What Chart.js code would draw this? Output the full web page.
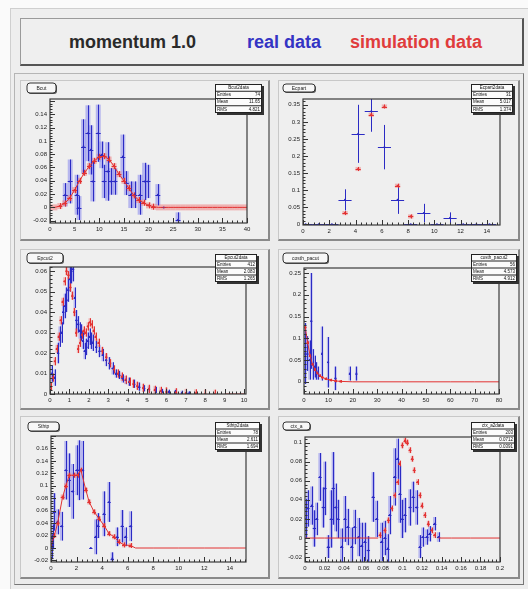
<!DOCTYPE html>
<html>
<head>
<meta charset="utf-8">
<script src="https://cdn.jsdelivr.net/npm/chart.js@4.4.0/dist/chart.umd.min.js"></script>
<style>
  body { margin: 0; width: 528px; height: 589px; background: #fafafa; position: relative; overflow: hidden; font-family: "Liberation Sans", Arial, sans-serif; }
  #page { position: absolute; left: 0; top: 0; width: 528px; height: 589px; filter: blur(0.4px); }
  .abs { position: absolute; box-sizing: border-box; }
  #root { left: 10px; top: 8px; width: 518px; height: 581px; background: #eeeeee; border-left: 1px solid #cfcfcf; border-top: 1px solid #cfcfcf; }
  #head { left: 20px; top: 18px; width: 504px; height: 48px; background: #efefef; border: 1px solid #9a9a9a; border-right: 2px solid #555; border-bottom: 2px solid #555; }
  .ht { position: absolute; top: 33px; font: bold 18px/18px "Liberation Sans", Arial, sans-serif; white-space: nowrap; }
  #panel { left: 14px; top: 73px; width: 510px; height: 512px; border: 1px solid #b5b5b5; border-right-color: #777; border-bottom-color: #777; background: #ececec; }
  .pad { background: #efefef; border: 1px solid #c8c8c8; border-right: 2px solid #8a8a8a; border-bottom: 2px solid #8a8a8a; }
  canvas { position: absolute; }
</style>
</head>
<body>
<div id="page">
<div id="root" class="abs"></div>
<div id="head" class="abs"></div>
<span class="ht" style="left:69px;color:#2a2a2a">momentum 1.0</span>
<span class="ht" style="left:247px;color:#3434c4">real data</span>
<span class="ht" style="left:350px;color:#e03c3c">simulation data</span>
<div id="panel" class="abs"></div>
</div>

<script>
// ---------- pad 1 : Bcut ----------
const bcutX = [3.1, 4.1, 5.5, 5.9, 6.8, 7.7, 8.3, 8.7, 9.8, 10.5, 11.0, 11.7, 12.4, 13.2, 14.8, 15.5, 16.4, 17.2, 18.3, 19.2, 19.9, 21.9, 23.1, 26.0];
const bcutY = [0.019, 0.039, 0.019, -0.001, 0.0915, 0.1115, 0.0865, 0.039, 0.1115, 0.079, 0.039, 0.054, 0.039, 0.039, 0.0765, 0.0365, 0.019, 0.019, 0.019, 0.039, 0.039, 0.019, 0, -0.0185];
const bcutErr = [0.0175, 0.033, 0.03, 0.018, 0.041, 0.042, 0.037, 0.03, 0.043, 0.02, 0.025, 0.044, 0.02, 0.02, 0.033, 0.018, 0.02, 0.02, 0.03, 0.028, 0.025, 0.016, 0, 0.011];
const bcutSimX = [0, 1, 2, 3, 4, 5, 6, 7, 8, 9, 10, 11, 12, 13, 14, 15, 16, 17, 18, 19, 20, 21, 22, 23, 24, 25, 26, 27, 28, 29, 30, 31, 32, 33, 34, 35, 36, 37, 38, 39, 40];
const bcutSimY = [0, 0, 0.002, 0.006, 0.014, 0.026, 0.04, 0.052, 0.062, 0.07, 0.076, 0.077, 0.072, 0.062, 0.05, 0.04, 0.029, 0.018, 0.011, 0.007, 0.003, 0.001, 0, 0, 0, 0, 0, 0, 0, 0, 0, 0, 0, 0, 0, 0, 0, 0, 0, 0, 0];
const bcutXTicks = [0, 5, 10, 15, 20, 25, 30, 35, 40];
const bcutYTicks = [-0.02, 0, 0.02, 0.04, 0.06, 0.08, 0.1, 0.12, 0.14];

// ---------- pad 2 : Ecpart ----------
const ecpX = [0.2, 1.2, 2.2, 3.2, 4.2, 5.2, 6.2, 7.2, 8.2, 9.2, 10.2, 11.2, 12.2, 13.2, 14.2];
const ecpY = [0, 0, 0, 0.0716, 0.265, 0.331, 0.226, 0.0716, 0, 0.033, 0, 0.019, 0, 0, 0];
const ecpErr = [0, 0, 0, 0.031, 0.085, 0.06, 0.065, 0.041, 0, 0.027, 0, 0.016, 0, 0, 0];
const ecpSimX = [0.2, 1.2, 2.2, 3.2, 4.2, 5.2, 6.2, 7.2, 8.2, 9.2, 10.2, 11.2, 12.2, 13.2, 14.2];
const ecpSimY = [0, 0, 0, 0.033, 0.162, 0.321, 0.345, 0.113, 0.023, 0, 0, 0, 0, 0, 0];
const ecpXTicks = [0, 2, 4, 6, 8, 10, 12, 14];
const ecpYTicks = [0, 0.05, 0.1, 0.15, 0.2, 0.25, 0.3, 0.35];

// ---------- pad 3 : Epcut2 ----------
const epX = [0.08, 0.25, 0.42, 0.5, 0.6, 0.68, 0.77, 0.85, 0.94, 1.02, 1.1, 1.19, 1.28, 1.36, 1.45, 1.53, 1.62, 1.7, 1.79, 1.87, 1.96, 2.04, 2.13, 2.21, 2.38, 2.55, 2.72, 2.89, 3.06, 3.23, 3.4, 3.57, 3.74, 3.91, 4.08, 4.34, 4.6, 4.85, 5.1, 5.44, 5.78, 6.12, 6.46, 6.8, 7.14];
const epY = [0.010, 0.008, 0.02, 0.028, 0.03, 0.04, 0.043, 0.046, 0.051, 0.056, 0.06, 0.061, 0.047, 0.036, 0.034, 0.031, 0.03, 0.026, 0.021, 0.023, 0.026, 0.028, 0.026, 0.025, 0.023, 0.021, 0.019, 0.0166, 0.015, 0.0125, 0.010, 0.0093, 0.0076, 0.0068, 0.006, 0.005, 0.0036, 0.0028, 0.0023, 0.002, 0.0015, 0.0011, 0.001, 0.0006, 0.0003];
const epErr = [0.004, 0.004, 0.005, 0.005, 0.005, 0.006, 0.006, 0.006, 0.006, 0.006, 0.006, 0.006, 0.005, 0.005, 0.004, 0.004, 0.004, 0.004, 0.004, 0.004, 0.004, 0.004, 0.004, 0.004, 0.003, 0.003, 0.003, 0.003, 0.003, 0.003, 0.002, 0.002, 0.002, 0.002, 0.002, 0.002, 0.002, 0.0015, 0.0015, 0.0015, 0.001, 0.001, 0.001, 0.001, 0.001];
const epSimX = [0.05, 0.15, 0.25, 0.35, 0.45, 0.55, 0.65, 0.75, 0.85, 0.95, 1.05, 1.15, 1.25, 1.35, 1.45, 1.55, 1.65, 1.75, 1.85, 1.95, 2.05, 2.15, 2.25, 2.35, 2.5, 2.7, 2.9, 3.1, 3.3, 3.5, 3.7, 3.9, 4.1, 4.3, 4.5, 4.8, 5.1, 5.4, 5.7, 6.0, 6.5, 7.0, 7.5, 8.0, 8.5, 9.0, 9.5, 10];
const epSimY = [0.0035, 0.008, 0.016, 0.022, 0.028, 0.036, 0.045, 0.055, 0.06, 0.058, 0.052, 0.048, 0.04, 0.03, 0.022, 0.025, 0.029, 0.031, 0.03, 0.033, 0.035, 0.034, 0.031, 0.028, 0.025, 0.021, 0.018, 0.015, 0.012, 0.010, 0.0085, 0.007, 0.006, 0.005, 0.004, 0.003, 0.0025, 0.002, 0.0015, 0.0012, 0.0008, 0.0005, 0.0003, 0.0002, 0.0001, 0, 0, 0];
const epXTicks = [0, 1, 2, 3, 4, 5, 6, 7, 8, 9, 10];
const epYTicks = [0, 0.01, 0.02, 0.03, 0.04, 0.05, 0.06];

// ---------- pad 4 : costh_pacut ----------
const cosX = [0.55, 1.4, 2.3, 3.0, 3.7, 4.4, 5.1, 5.8, 7.4, 9.9, 12.9, 18.8, 21.5];
const cosY = [0.065, 0.065, 0.05, 0.14, 0.04, 0.035, 0.025, 0.02, 0.065, 0.045, 0.008, 0.019, 0.019];
const cosErr = [0.07, 0.04, 0.045, 0.11, 0.035, 0.025, 0.02, 0.015, 0.062, 0.058, 0.027, 0.016, 0.016];
const cosSimX = [0.5, 1.5, 2.5, 3.5, 4.5, 5.5, 6.5, 7.5, 9, 11, 13, 15, 20, 30, 40, 50, 60, 70, 80];
const cosSimY = [0.125, 0.09, 0.06, 0.04, 0.028, 0.02, 0.014, 0.01, 0.007, 0.004, 0.002, 0.001, 0, 0, 0, 0, 0, 0, 0];
const cosXTicks = [0, 10, 20, 30, 40, 50, 60, 70, 80];
const cosYTicks = [0, 0.05, 0.1, 0.15, 0.2, 0.25];

// ---------- pad 5 : Sthtp ----------
const sthX = [0.05, 0.13, 0.26, 0.52, 0.83, 1.17, 1.43, 1.69, 2.03, 2.21, 2.47, 3.12, 3.5, 3.69, 4.16, 4.55, 4.8, 5.19, 5.58, 5.84, 6.23];
const sthY = [0.002, 0.018, 0.058, 0.042, 0.035, 0.125, 0.109, 0.091, 0.125, 0.125, 0.125, 0, 0.018, 0.036, 0.055, 0.074, -0.017, 0.018, 0.035, 0.018, 0.035];
const sthErr = [0.02, 0.02, 0.03, 0.02, 0.023, 0.047, 0.043, 0.044, 0.04, 0.048, 0.047, 0, 0.028, 0.02, 0.036, 0.032, 0.01, 0.015, 0.026, 0.015, 0.024];
const sthSimX = [0, 0.26, 0.52, 0.91, 1.17, 1.43, 1.82, 2.08, 2.34, 2.73, 2.99, 3.38, 3.77, 4.16, 4.55, 4.94, 5.32, 5.71, 6.23, 6.62, 8, 10, 12, 14, 15.25];
const sthSimY = [0.004, 0.02, 0.04, 0.082, 0.1, 0.117, 0.117, 0.117, 0.125, 0.093, 0.074, 0.058, 0.047, 0.036, 0.023, 0.018, 0.01, 0.005, 0.004, 0, 0, 0, 0, 0, 0];
const sthXTicks = [0, 2, 4, 6, 8, 10, 12, 14];
const sthYTicks = [-0.02, 0, 0.02, 0.04, 0.06, 0.08, 0.1, 0.12, 0.14, 0.16];

// ---------- pad 6 : ctx_a ----------
const ctxX = [0.001, 0.003, 0.007, 0.0096, 0.012, 0.0154, 0.0188, 0.0205, 0.024, 0.027, 0.029, 0.0315, 0.034, 0.0376, 0.041, 0.044, 0.048, 0.051, 0.055, 0.058, 0.0615, 0.065, 0.070, 0.0735, 0.0786, 0.082, 0.085, 0.087, 0.092, 0.095, 0.0974, 0.0998, 0.1026, 0.1077, 0.111, 0.1145, 0.118, 0.121, 0.125, 0.128, 0.133, 0.137];
const ctxY = [0.02, 0.031, 0.034, 0.01, 0.02, 0.064, 0.032, 0.052, -0.009, 0.02, 0.052, 0.032, 0.02, -0.009, 0.02, 0.0115, -0.009, 0.0115, 0.001, -0.008, -0.004, -0.013, 0.043, 0.02, -0.004, 0, -0.011, 0.024, 0.064, 0.083, 0.046, 0.02, 0.024, 0.032, 0.043, 0.032, -0.009, 0.001, 0.001, 0.0045, 0.015, 0.001];
const ctxErr = [0.021, 0.019, 0.02, 0.019, 0.017, 0.025, 0.021, 0.028, 0.012, 0.03, 0.038, 0.025, 0.02, 0.019, 0.024, 0.019, 0.02, 0.018, 0.02, 0.024, 0.02, 0.015, 0.026, 0.019, 0.02, 0.018, 0.015, 0.02, 0.03, 0.021, 0.03, 0.02, 0.018, 0.019, 0.016, 0.018, 0.012, 0.01, 0.008, 0.008, 0.007, 0.005];
const ctxSimX = [0, 0.02, 0.04, 0.06, 0.075, 0.077, 0.082, 0.0855, 0.089, 0.092, 0.095, 0.097, 0.0998, 0.1026, 0.105, 0.1077, 0.11, 0.112, 0.1155, 0.118, 0.12, 0.123, 0.1265, 0.13, 0.133, 0.137, 0.15, 0.17, 0.2];
const ctxSimY = [0, 0, 0, 0, 0, 0.003, 0.008, 0.0185, 0.031, 0.0447, 0.0586, 0.078, 0.097, 0.102, 0.1, 0.092, 0.083, 0.071, 0.0586, 0.0447, 0.034, 0.024, 0.015, 0.008, 0.003, 0, 0, 0, 0];
const ctxXTicks = [0, 0.02, 0.04, 0.06, 0.08, 0.1, 0.12, 0.14, 0.16, 0.18, 0.2];
const ctxYTicks = [-0.02, 0, 0.02, 0.04, 0.06, 0.08, 0.1];

// pad titles and stat box texts
const padTitles = ['Bcut', 'Ecpart', 'Epcut2', 'costh_pacut', 'Sthtp', 'ctx_a'];
const padStats = [
  [['Bcut2data', ''], ['Entries', '74'], ['Mean', '11.65'], ['RMS', '4.821']],
  [['Ecpart2data', ''], ['Entries', '31'], ['Mean', '5.017'], ['RMS', '1.374']],
  [['Epcut2data', ''], ['Entries', '412'], ['Mean', '2.083'], ['RMS', '1.265']],
  [['costh_pacut2', ''], ['Entries', '56'], ['Mean', '4.573'], ['RMS', '4.912']],
  [['Sthtp2data', ''], ['Entries', '78'], ['Mean', '2.611'], ['RMS', '1.694']],
  [['ctx_a2data', ''], ['Entries', '203'], ['Mean', '0.0712'], ['RMS', '0.0391']]
];

const BLUE = '#2b2bc4';
const BLUE_BOX = 'rgba(125,125,238,0.5)';
const RED = '#e23232';
const PINK = 'rgba(240,115,115,0.5)';

const pads = [
  { left: 20, top: 80, w: 250, h: 161, frame: [50, 99, 247, 223], xr: [0, 40], yr: [-0.0235, 0.163],
    x: bcutX, y: bcutY, err: bcutErr, sx: bcutSimX, sy: bcutSimY, xt: bcutXTicks, yt: bcutYTicks,
    bin: 1, box: true, simBin: 1, simErr: 0.0045, simLine: 'full', zeroBand: true },
  { left: 278, top: 80, w: 242, h: 161, frame: [303, 99, 500, 225], xr: [0, 15], yr: [-0.002, 0.367],
    x: ecpX, y: ecpY, err: ecpErr, sx: ecpSimX, sy: ecpSimY, xt: ecpXTicks, yt: ecpYTicks,
    bin: 1, box: false, simBin: 0.4, simErr: 0.006, simLine: 'none' },
  { left: 20, top: 249, w: 250, h: 161, frame: [50, 267, 246, 394], xr: [0, 10.1], yr: [0, 0.062],
    x: epX, y: epY, err: epErr, sx: epSimX, sy: epSimY, xt: epXTicks, yt: epYTicks,
    bin: 0.12, box: true, simBin: 0.1, simErr: 0.002, simLine: 'flat' },
  { left: 278, top: 249, w: 242, h: 161, frame: [304, 268, 499, 394], xr: [0, 80], yr: [-0.028, 0.2615],
    x: cosX, y: cosY, err: cosErr, sx: cosSimX, sy: cosSimY, xt: cosXTicks, yt: cosYTicks,
    bin: 0.8, box: true, simBin: 1, simErr: 0.003, simLine: 'full' },
  { left: 20, top: 416, w: 250, h: 163, frame: [51, 436, 246, 562], xr: [0, 15.27], yr: [-0.0225, 0.18],
    x: sthX, y: sthY, err: sthErr, sx: sthSimX, sy: sthSimY, xt: sthXTicks, yt: sthYTicks,
    bin: 0.26, box: true, simBin: 0.3, simErr: 0.004, simLine: 'full' },
  { left: 278, top: 416, w: 242, h: 163, frame: [305, 437, 500, 562], xr: [0, 0.2], yr: [-0.0251, 0.1058],
    x: ctxX, y: ctxY, err: ctxErr, sx: ctxSimX, sy: ctxSimY, xt: ctxXTicks, yt: ctxYTicks,
    bin: 0.0034, box: true, simBin: 0.003, simErr: 0.003, simLine: 'flat' }
];

const fmt = v => String(+(+v).toFixed(4));
const pts = (xs, ys) => xs.map((v, i) => ({ x: v, y: ys[i] }));
const page = document.getElementById('page');

// error boxes, frame, ticks, title and stats box, ROOT style
function rootPlugin(p, n) {
  // simulation points sitting at zero only get the flat line (plus band on pad 1)
  const errOf = (ds, pt, i) => {
    const e = Array.isArray(ds.errs) ? ds.errs[i] : ds.errs;
    if (ds.sim && pt.y === 0 && !p.zeroBand) return 0;
    return e;
  };
  return {
    id: 'root' + n,
    beforeDatasetsDraw(chart) {
      const { ctx, chartArea: a, scales: { x, y } } = chart;
      ctx.save();
      ctx.beginPath();
      ctx.rect(a.left, a.top, a.width, a.height);
      ctx.clip();
      const sets = chart.data.datasets.slice().reverse();
      sets.forEach(ds => {
        if (!ds.boxColor) return;
        ds.data.forEach((pt, i) => {
          const e = errOf(ds, pt, i);
          if (!e) return;
          const px = x.getPixelForValue(pt.x);
          const w = Math.max(2.5, x.getPixelForValue(pt.x + ds.bin) - x.getPixelForValue(pt.x));
          const yh = y.getPixelForValue(pt.y + e), yl = y.getPixelForValue(pt.y - e);
          ctx.fillStyle = ds.boxColor;
          ctx.fillRect(px - w / 2, yh, w, yl - yh);
        });
      });
      sets.forEach(ds => {
        ctx.strokeStyle = ds.barColor;
        ctx.lineWidth = 1;
        ctx.beginPath();
        ds.data.forEach((pt, i) => {
          const e = errOf(ds, pt, i);
          if (ds.sim && pt.y === 0) return;
          const px = Math.round(x.getPixelForValue(pt.x)) + 0.5;
          const py = Math.round(y.getPixelForValue(pt.y)) + 0.5;
          const x0 = x.getPixelForValue(pt.x - ds.bin / 2), x1 = x.getPixelForValue(pt.x + ds.bin / 2);
          ctx.moveTo(x0, py);
          ctx.lineTo(x1, py);
          if (e) {
            ctx.moveTo(px, y.getPixelForValue(pt.y + e));
            ctx.lineTo(px, y.getPixelForValue(pt.y - e));
          }
        });
        ctx.stroke();
      });
      ctx.restore();
    },
    afterDraw(chart) {
      const { ctx, chartArea: a, scales: { x, y } } = chart;
      ctx.save();
      // frame
      ctx.strokeStyle = '#3a3a3a';
      ctx.lineWidth = 1.2;
      ctx.strokeRect(a.left, a.top, a.width, a.height);
      // major + minor ticks, inside the frame
      ctx.lineWidth = 1;
      ctx.strokeStyle = '#333';
      ctx.beginPath();
      [[x, true], [y, false]].forEach(([s, horiz]) => {
        const t = s.ticks.map(k => k.value);
        const step = (t[1] - t[0]) / 5;
        for (let i = -5; i <= (t.length - 1) * 5 + 5; i++) {
          const v = t[0] + i * step;
          if (v < s.min - 1e-9 || v > s.max + 1e-9) continue;
          const len = i % 5 === 0 ? 5 : 2.5;
          const pix = Math.round(s.getPixelForValue(v)) + 0.5;
          if (horiz) { ctx.moveTo(pix, a.bottom); ctx.lineTo(pix, a.bottom - len); }
          else { ctx.moveTo(a.left, pix); ctx.lineTo(a.left + len, pix); }
        }
      });
      ctx.stroke();

      // title box (top left)
      const tb = p.titleBox;
      ctx.fillStyle = '#555';
      ctx.beginPath(); ctx.roundRect(tb[0] + 1, tb[1] + 1, tb[2], tb[3], 3); ctx.fill();
      ctx.fillStyle = '#f7f7f7';
      ctx.strokeStyle = '#333';
      ctx.beginPath(); ctx.roundRect(tb[0], tb[1], tb[2], tb[3], 3); ctx.fill(); ctx.stroke();
      ctx.fillStyle = '#222';
      ctx.font = '5px "Liberation Sans"';
      ctx.textAlign = 'center';
      ctx.textBaseline = 'middle';
      ctx.fillText(padTitles[n], tb[0] + tb[2] / 2, tb[1] + tb[3] / 2 + 0.5);

      // stats box (top right)
      const sb = p.statBox;
      ctx.fillStyle = '#333';
      ctx.fillRect(sb[0] + 2, sb[1] + 2, sb[2], sb[3]);
      ctx.fillStyle = '#fbfbfb';
      ctx.fillRect(sb[0], sb[1], sb[2], sb[3]);
      ctx.strokeStyle = '#222';
      ctx.strokeRect(sb[0] + 0.5, sb[1] + 0.5, sb[2] - 1, sb[3] - 1);
      ctx.font = '4.5px "Liberation Sans"';
      const lh = sb[3] / 4;
      padStats[n].forEach(([k, v], j) => {
        const ty = sb[1] + lh * (j + 0.5);
        if (j === 0) { ctx.textAlign = 'center'; ctx.fillStyle = '#111'; ctx.fillText(k, sb[0] + sb[2] / 2, ty); return; }
        ctx.beginPath(); ctx.moveTo(sb[0], sb[1] + lh * j); ctx.lineTo(sb[0] + sb[2], sb[1] + lh * j); ctx.stroke();
        ctx.textAlign = 'left'; ctx.fillText(k, sb[0] + 2, ty);
        ctx.textAlign = 'right'; ctx.fillText(v, sb[0] + sb[2] - 2, ty);
      });
      ctx.restore();
    }
  };
}

// title and stats box positions inside each pad
const titleBoxes = [[7, 3, 29, 10], [5, 4, 32, 8], [7, 4, 36, 10], [5, 4, 45, 10], [8, 6, 31, 9], [5, 6, 27, 8]];
const statBoxes = [[195, 4, 47, 29], [193, 4, 42, 29], [195, 5, 42, 28], [193, 5, 46, 28], [195, 6, 45, 28], [193, 6, 44, 28]];

pads.forEach((p, n) => {
  p.titleBox = titleBoxes[n];
  p.statBox = statBoxes[n];

  const bg = document.createElement('div');
  bg.className = 'abs pad';
  Object.assign(bg.style, { left: p.left + 'px', top: p.top + 'px', width: p.w + 'px', height: p.h + 'px' });
  page.appendChild(bg);

  const cv = document.createElement('canvas');
  cv.width = p.w;
  cv.height = p.h;
  cv.style.left = p.left + 'px';
  cv.style.top = p.top + 'px';
  page.appendChild(cv);

  const [fl, ft, fr, fb] = p.frame;
  const tickFont = { family: 'Liberation Sans', size: 6 };

  new Chart(cv, {
    type: 'scatter',
    data: {
      datasets: [
        {
          label: 'simulation data',
          data: pts(p.sx, p.sy),
          showLine: p.simLine !== 'none',
          borderColor: RED,
          borderWidth: 1,
          pointRadius: c => (c.raw && c.raw.y === 0) ? 0 : 1.1,
          pointBorderWidth: 0,
          pointBackgroundColor: RED,
          segment: {
            borderColor: c => (p.simLine === 'flat' && (c.p0.parsed.y !== 0 || c.p1.parsed.y !== 0)) ? 'transparent' : RED
          },
          sim: true, errs: p.simErr, bin: p.simBin, boxColor: PINK, barColor: RED
        },
        {
          label: 'real data',
          data: pts(p.x, p.y),
          showLine: false,
          pointRadius: 1,
          pointBorderWidth: 0,
          pointBackgroundColor: BLUE,
          errs: p.err, bin: p.bin, boxColor: p.box ? BLUE_BOX : null, barColor: BLUE
        }
      ]
    },
    options: {
      responsive: false,
      animation: false,
      events: [],
      layout: { padding: { left: 0, top: ft - p.top, right: p.left + p.w - fr, bottom: 0 } },
      plugins: { legend: { display: false }, tooltip: { enabled: false } },
      scales: {
        x: {
          type: 'linear', min: p.xr[0], max: p.xr[1],
          afterBuildTicks: s => { s.ticks = p.xt.map(v => ({ value: v })); },
          afterFit: s => { s.height = p.top + p.h - fb; },
          grid: { display: false, drawTicks: false },
          border: { display: false },
          ticks: { font: tickFont, color: '#222', padding: 3, maxRotation: 0, autoSkip: false, callback: fmt }
        },
        y: {
          type: 'linear', min: p.yr[0], max: p.yr[1],
          afterBuildTicks: s => { s.ticks = p.yt.map(v => ({ value: v })); },
          afterFit: s => { s.width = fl - p.left; },
          grid: { display: false, drawTicks: false },
          border: { display: false },
          ticks: { font: tickFont, color: '#222', padding: 3, autoSkip: false, callback: fmt }
        }
      }
    },
    plugins: [rootPlugin(p, n)]
  });
});
</script>
</body>
</html>
